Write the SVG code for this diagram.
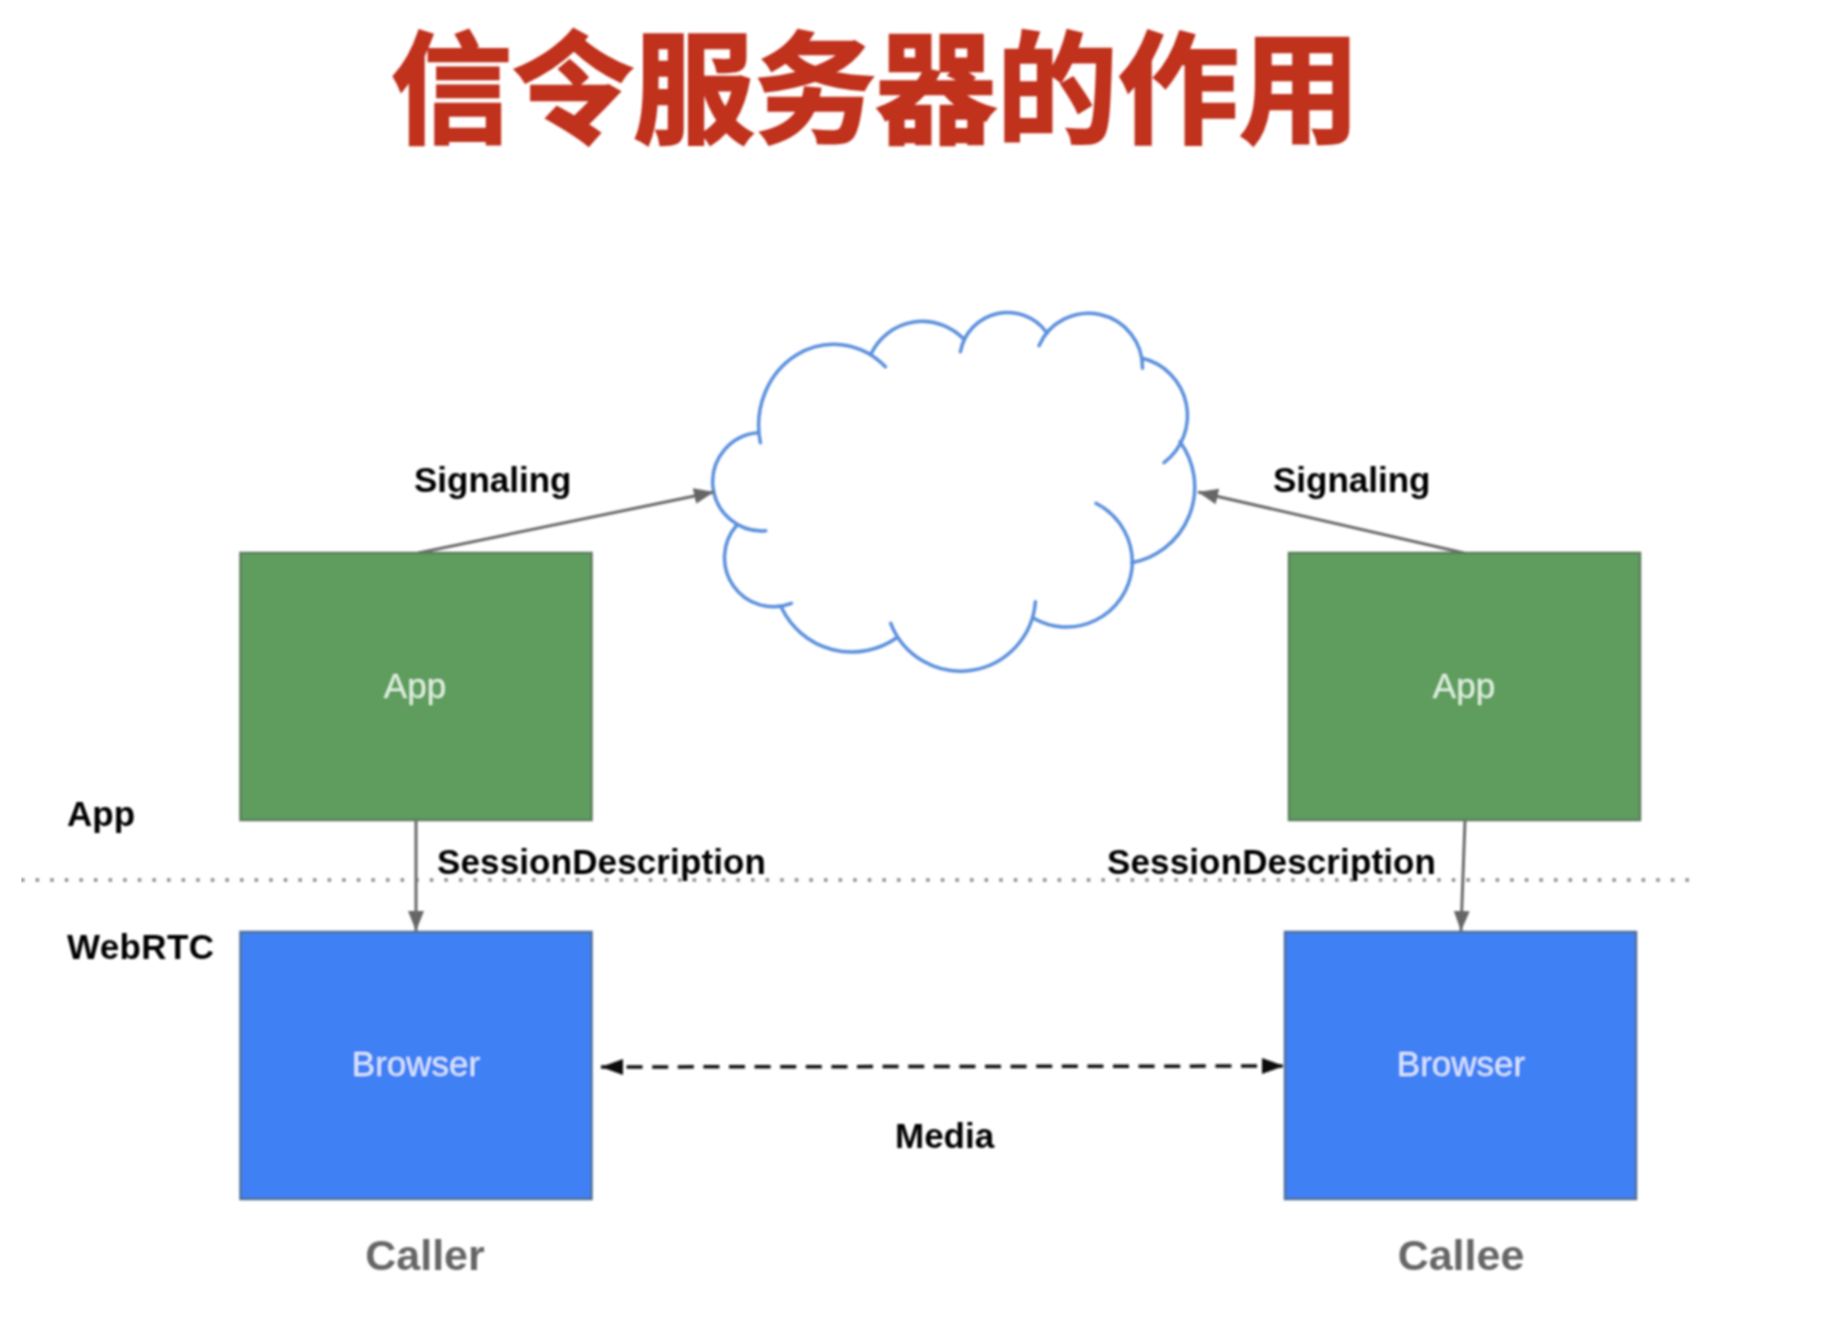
<svg xmlns="http://www.w3.org/2000/svg" width="1844" height="1336" viewBox="0 0 1844 1336">
<style>
.lbl{font-family:"Liberation Sans",Arial,sans-serif;font-weight:700;font-size:35px;fill:#000}
.inner{font-family:"Liberation Sans",Arial,sans-serif;font-size:35px;text-anchor:middle}
.role{font-family:"Liberation Sans",Arial,sans-serif;font-weight:700;font-size:43px;fill:#666;text-anchor:middle}
.green{fill:#5e9d5e;stroke:#5b7d5b;stroke-width:2.5}
.blue{fill:#4080f5;stroke:#4f7198;stroke-width:2.5}
.conn{fill:none;stroke:#6a6a6a;stroke-width:3}
.cloud{fill:none;stroke:#5a8fdc;stroke-width:3.5;stroke-linecap:round}
</style>
<defs>
<filter id="soft" x="0" y="0" width="100%" height="100%"><feGaussianBlur stdDeviation="0.8"/></filter>
<marker id="ah" markerUnits="userSpaceOnUse" markerWidth="24" markerHeight="20" refX="20" refY="8" orient="auto"><path d="M0 0L20 8L0 16z" fill="#666"/></marker>
<marker id="bh" markerUnits="userSpaceOnUse" markerWidth="26" markerHeight="20" refX="22" refY="8" orient="auto-start-reverse"><path d="M0 0L22 8L0 16z" fill="#111"/></marker>
</defs>
<rect width="1844" height="1336" fill="#fff"/>
<g filter="url(#soft)">
<text id="title" x="391" y="133" font-family="'Noto Sans CJK SC',sans-serif" font-weight="700" font-size="121" textLength="969" lengthAdjust="spacing" fill="#c0301f" stroke="#c0301f" stroke-width="2.500">信令服务器的作用</text>
<g id="divider"><line x1="21" y1="880" x2="1694" y2="880" stroke="#8a8a8a" stroke-width="3.500" stroke-dasharray="3.500 11.100"/></g>
<g id="cloud" class="cloud">
<path d="M765.700 530.700A49 49 0 0 1 757.900 432.700"/>
<path d="M760.400 442.700A75 81 0 0 1 885.400 366.700"/>
<path d="M871 354A57 57 0 0 1 964 339.300"/>
<path d="M960.400 351.700A48 48 0 0 1 1046 331.700"/>
<path d="M1039 345.700A54 54 0 0 1 1142.500 368.300"/>
<path d="M1142.500 358.300A59 59 0 0 1 1164 462.700"/>
<path d="M1180 441.700A77 77 0 0 1 1131.800 562.700"/>
<path d="M1096 503.300A66 66 0 0 1 1131.800 570A66 66 0 0 1 1033.600 618.300"/>
<path d="M1035.400 601.700A75 75 0 0 1 890.700 623.300"/>
<path d="M896 638.300A78 78 0 0 1 781.800 608.300"/>
<path d="M791.400 603.300A49 49 0 0 1 737 525"/>
</g>
<g id="connectors">
<line class="conn" x1="418" y1="553" x2="714" y2="492" marker-end="url(#ah)"/>
<line class="conn" x1="1464" y1="553" x2="1198" y2="492" marker-end="url(#ah)"/>
<line class="conn" x1="416" y1="820" x2="416" y2="931" marker-end="url(#ah)"/>
<line class="conn" x1="1465" y1="820" x2="1461" y2="931" marker-end="url(#ah)"/>
<line x1="601" y1="1067" x2="1284" y2="1066" fill="none" stroke="#111" stroke-width="3.500" stroke-dasharray="16 9.600" marker-start="url(#bh)" marker-end="url(#bh)"/>
</g>
<g id="app-caller"><rect class="green" x="240.500" y="553" width="351" height="267"/><text class="inner" x="415" y="698" fill="#dff2df">App</text></g>
<g id="app-callee"><rect class="green" x="1289" y="553" width="351" height="267"/><text class="inner" x="1464" y="698" fill="#dff2df">App</text></g>
<g id="browser-caller"><rect class="blue" x="240.500" y="932" width="351" height="267"/><text class="inner" x="416" y="1076" fill="#dce8ff">Browser</text></g>
<g id="browser-callee"><rect class="blue" x="1285" y="932" width="351" height="267"/><text class="inner" x="1461" y="1076" fill="#dce8ff">Browser</text></g>
<g id="labels">
<text class="lbl" x="414" y="492">Signaling</text>
<text class="lbl" x="1273" y="492">Signaling</text>
<text class="lbl" x="437" y="874" textLength="329">SessionDescription</text>
<text class="lbl" x="1107" y="874" textLength="329">SessionDescription</text>
<text class="lbl" x="67" y="826">App</text>
<text class="lbl" x="67" y="959" textLength="147">WebRTC</text>
<text class="lbl" x="895" y="1148">Media</text>
<text class="role" x="425" y="1270">Caller</text>
<text class="role" x="1461" y="1270">Callee</text>
</g>
</g>
</svg>
